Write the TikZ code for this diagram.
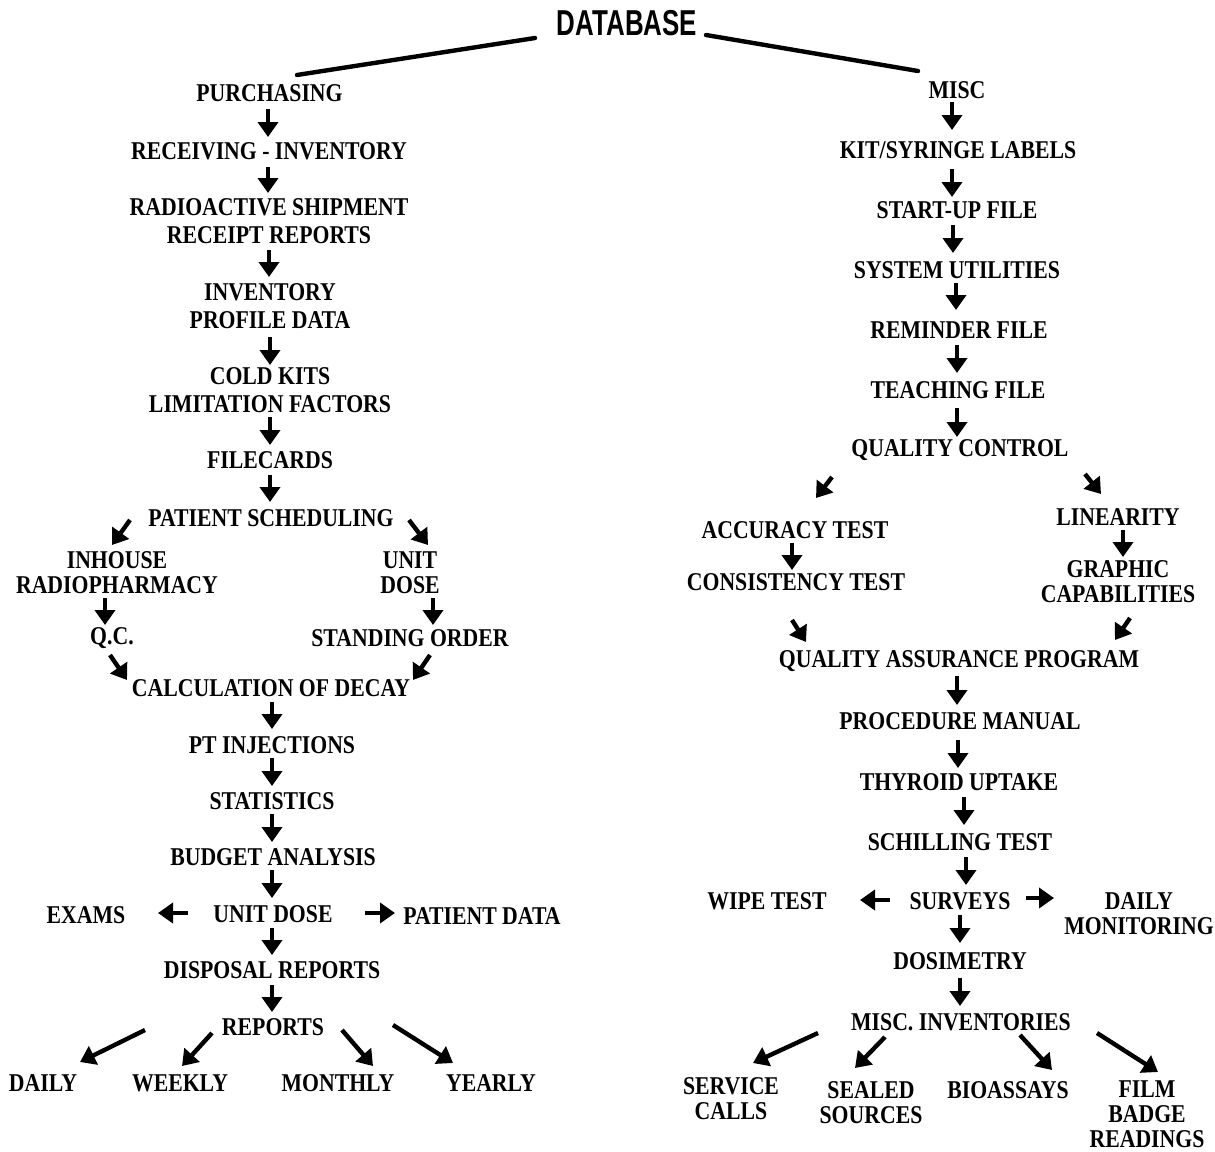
\documentclass[tikz,border=0pt]{standalone}
\usepackage{fontspec}
\usetikzlibrary{arrows.meta,calc}
\newfontfamily\labfont{Liberation Serif}[FakeStretch=0.85]
\newfontfamily\dbfont{Liberation Sans}[FakeStretch=0.72]
\tikzset{
  lbl/.style={font=\labfont\bfseries\fontsize{12.8}{14}\selectfont, inner sep=0pt, align=center},
  lbltight/.style={lbl, font=\labfont\bfseries\fontsize{12.8}{12.6}\selectfont},
  dbnode/.style={font=\dbfont\bfseries\fontsize{18}{20}\selectfont, inner sep=0pt},
  arr/.style={line width=2.2pt, -{Triangle[width=10pt,length=7.5pt]}},
  trunk/.style={line width=2.2pt, line cap=round}
}
\begin{document}
\begin{tikzpicture}[x=0.5pt,y=-0.5pt]
\useasboundingbox (0,0) rectangle (1215,1151);
% ---------- top ----------
\node[dbnode] (db) at (627,23) {DATABASE};
% ---------- left column ----------
\node[lbl] (pur) at (269.5,93) {PURCHASING};
\node[lbl] (rec) at (269,151) {RECEIVING - INVENTORY};
\node[lbl] (rad) at (269,221) {RADIOACTIVE SHIPMENT\\RECEIPT REPORTS};
\node[lbl] (inv) at (270,306) {INVENTORY\\PROFILE DATA};
\node[lbl] (cold) at (270,390.5) {COLD KITS\\LIMITATION FACTORS};
\node[lbl] (fil) at (270,460) {FILECARDS};
\node[lbl] (ps) at (271,518) {PATIENT SCHEDULING};
\node[lbltight] (inh) at (117,572.5) {INHOUSE\\RADIOPHARMACY};
\node[lbltight] (udone) at (410,573) {UNIT\\DOSE};
\node[lbl] (qc) at (112,638) {Q.C.};
\node[lbl] (so) at (410,638) {STANDING ORDER};
\node[lbl] (calc) at (271,688) {CALCULATION OF DECAY};
\node[lbl] (pt) at (272,745) {PT INJECTIONS};
\node[lbl] (stat) at (272,801) {STATISTICS};
\node[lbl] (bud) at (273,857) {BUDGET ANALYSIS};
\node[lbl] (udtwo) at (273,914) {UNIT DOSE};
\node[lbl] (exams) at (86,915) {EXAMS};
\node[lbl] (pd) at (482,916) {PATIENT DATA};
\node[lbl] (disp) at (272,970) {DISPOSAL REPORTS};
\node[lbl] (rep) at (273,1027) {REPORTS};
\node[lbl] (daily) at (43,1083) {DAILY};
\node[lbl] (weekly) at (180,1083) {WEEKLY};
\node[lbl] (monthly) at (338,1083) {MONTHLY};
\node[lbl] (yearly) at (491,1083) {YEARLY};
% ---------- right column ----------
\node[lbl] (misc) at (957,90) {MISC};
\node[lbl] (kit) at (958,150) {KIT/SYRINGE LABELS};
\node[lbl] (start) at (957,210) {START-UP FILE};
\node[lbl] (sys) at (957,270) {SYSTEM UTILITIES};
\node[lbl] (rem) at (959,330) {REMINDER FILE};
\node[lbl] (teach) at (958,390) {TEACHING FILE};
\node[lbl] (qcr) at (960,450) {QUALITY CONTROL};
\node[lbl] (acc) at (795,530) {ACCURACY TEST};
\node[lbl] (lin) at (1118,517) {LINEARITY};
\node[lbl] (cons) at (796,582) {CONSISTENCY TEST};
\node[lbltight] (graph) at (1118,582) {GRAPHIC\\CAPABILITIES};
\node[lbl] (qap) at (959,661) {QUALITY ASSURANCE PROGRAM};
\node[lbl] (proc) at (960,721) {PROCEDURE MANUAL};
\node[lbl] (thy) at (959,782) {THYROID UPTAKE};
\node[lbl] (sch) at (960,842) {SCHILLING TEST};
\node[lbl] (surv) at (960,901) {SURVEYS};
\node[lbl] (wipe) at (767,901) {WIPE TEST};
\node[lbltight] (dm) at (1139,914) {DAILY\\MONITORING};
\node[lbl] (dos) at (960,961) {DOSIMETRY};
\node[lbl] (mi) at (961,1022) {MISC. INVENTORIES};
\node[lbltight] (serv) at (731,1099) {SERVICE\\CALLS};
\node[lbltight] (seal) at (871,1102.5) {SEALED\\SOURCES};
\node[lbl] (bio) at (1008,1090) {BIOASSAYS};
\node[lbltight] (film) at (1147,1114) {FILM\\BADGE\\READINGS};
% ---------- trunk lines ----------
\draw[trunk] ($(db)+(-92,15)$) -- ($(pur)+(27.5,-18)$);
\draw[trunk] ($(db)+(79,12)$) -- ($(misc)+(-39,-19)$);
% ---------- left arrows ----------
\draw[arr] ($(pur)+(-1.5,16)$) -- ($(rec)+(-1,-14)$);
\draw[arr] ($(rec)+(-1,16)$) -- ($(rad)+(-1,-28)$);
\draw[arr] ($(rad)+(0,29)$) -- ($(inv)+(-1,-29)$);
\draw[arr] ($(inv)+(0,31)$) -- ($(cold)+(0,-25.5)$);
\draw[arr] ($(cold)+(0,26.5)$) -- ($(fil)+(0,-15)$);
\draw[arr] ($(fil)+(0,15)$) -- ($(ps)+(-1,-16)$);
\draw[arr] ($(ps)+(-141,2)$) -- ($(inh)+(-5,-27.5)$);
\draw[arr] ($(ps)+(138,2)$) -- ($(udone)+(18,-28)$);
\draw[arr] ($(inh)+(-12,25.5)$) -- ($(qc)+(-7,-13)$);
\draw[arr] ($(udone)+(23,25)$) -- ($(so)+(23,-13)$);
\draw[arr] ($(qc)+(-2,17)$) -- ($(calc)+(-144,-8)$);
\draw[arr] ($(so)+(20,17)$) -- ($(calc)+(142,-8)$);
\draw[arr] ($(calc)+(1,14)$) -- ($(pt)+(0,-16)$);
\draw[arr] ($(pt)+(0,13)$) -- ($(stat)+(0,-15)$);
\draw[arr] ($(stat)+(0,13)$) -- ($(bud)+(-1,-15)$);
\draw[arr] ($(bud)+(-1,13)$) -- ($(udtwo)+(-1,-16)$);
\draw[arr] ($(udtwo)+(-85,-1)$) -- ($(exams)+(72,-2)$);
\draw[arr] ($(udtwo)+(92,-1)$) -- ($(pd)+(-87,-3)$);
\draw[arr] ($(udtwo)+(-1,14)$) -- ($(disp)+(0,-15)$);
\draw[arr] ($(disp)+(0,15)$) -- ($(rep)+(-1,-15)$);
\draw[arr] ($(rep)+(-128,3)$) -- ($(daily)+(37,-21)$);
\draw[arr] ($(rep)+(-61,6)$) -- ($(weekly)+(2,-17)$);
\draw[arr] ($(rep)+(69,3)$) -- ($(monthly)+(35,-17)$);
\draw[arr] ($(rep)+(120,-2)$) -- ($(yearly)+(-38,-20)$);
% ---------- right arrows ----------
\draw[arr] ($(misc)+(-5,12)$) -- ($(kit)+(-6,-20)$);
\draw[arr] ($(kit)+(-6,19)$) -- ($(start)+(-5,-13)$);
\draw[arr] ($(start)+(-4,15)$) -- ($(sys)+(-4,-17)$);
\draw[arr] ($(sys)+(-1,13)$) -- ($(rem)+(-3,-20)$);
\draw[arr] ($(rem)+(-2,15)$) -- ($(teach)+(-1,-17)$);
\draw[arr] ($(teach)+(-1,18)$) -- ($(qcr)+(-3,-13)$);
\draw[arr] ($(qcr)+(-128,27)$) -- ($(acc)+(21,-32)$);
\draw[arr] ($(qcr)+(125,24)$) -- ($(lin)+(-17,-23)$);
\draw[arr] ($(acc)+(-3,13)$) -- ($(cons)+(-4,-12)$);
\draw[arr] ($(lin)+(5,13)$) -- ($(graph)+(5,-25)$);
\draw[arr] ($(cons)+(-4,38)$) -- ($(qap)+(-153,-19)$);
\draw[arr] ($(graph)+(12,36)$) -- ($(qap)+(156,-21)$);
\draw[arr] ($(qap)+(-2,15)$) -- ($(proc)+(-3,-16)$);
\draw[arr] ($(proc)+(-2,19)$) -- ($(thy)+(-1,-14)$);
\draw[arr] ($(thy)+(5,15)$) -- ($(sch)+(4,-17)$);
\draw[arr] ($(sch)+(6,15)$) -- ($(surv)+(6,-16)$);
\draw[arr] ($(surv)+(-70,-1)$) -- ($(wipe)+(93,-1)$);
\draw[arr] ($(surv)+(66,-3)$) -- ($(dm)+(-85,-16)$);
\draw[arr] ($(surv)+(0,14)$) -- ($(dos)+(0,-18)$);
\draw[arr] ($(dos)+(0,17)$) -- ($(mi)+(-1,-16)$);
\draw[arr] ($(mi)+(-143,11)$) -- ($(serv)+(22,-36)$);
\draw[arr] ($(mi)+(-76,15)$) -- ($(seal)+(-16,-34.5)$);
\draw[arr] ($(mi)+(59,13)$) -- ($(bio)+(44,-20)$);
\draw[arr] ($(mi)+(136,11)$) -- ($(film)+(11,-42)$);
\end{tikzpicture}
\end{document}
